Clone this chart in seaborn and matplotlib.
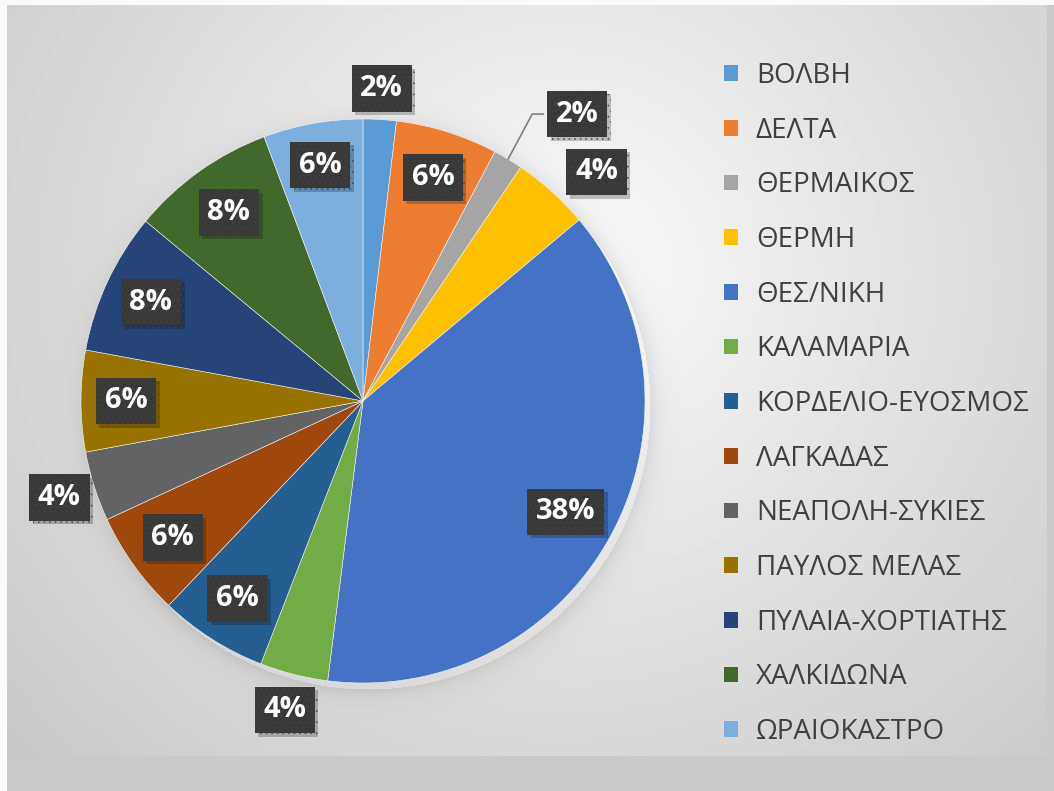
import numpy as np
import matplotlib
matplotlib.use("Agg")
import matplotlib.pyplot as plt
import seaborn as sns
from matplotlib import patheffects as pe

sns.set_theme(style="white")
plt.rcParams['font.family'] = ['Open Sans', 'DejaVu Sans']
plt.rcParams['hatch.linewidth'] = 0.4

# ---- data ----
regions = ['ΒΟΛΒΗ', 'ΔΕΛΤΑ', 'ΘΕΡΜΑΙΚΟΣ', 'ΘΕΡΜΗ', 'ΘΕΣ/ΝΙΚΗ', 'ΚΑΛΑΜΑΡΙΑ',
           'ΚΟΡΔΕΛΙΟ-ΕΥΟΣΜΟΣ', 'ΛΑΓΚΑΔΑΣ', 'ΝΕΑΠΟΛΗ-ΣΥΚΙΕΣ', 'ΠΑΥΛΟΣ ΜΕΛΑΣ',
           'ΠΥΛΑΙΑ-ΧΟΡΤΙΑΤΗΣ', 'ΧΑΛΚΙΔΩΝΑ', 'ΩΡΑΙΟΚΑΣΤΡΟ']
shares = [1.9, 5.85, 1.7, 4.45, 38.1, 3.9, 6.2, 6.0, 4.0, 5.8, 8.1, 8.3, 5.7]

# ---- style ----
colors = ['#5B9BD5', '#ED7D31', '#A5A5A5', '#FFC000', '#4472C4', '#70AD47',
          '#255E91', '#9E480E', '#636363', '#997300', '#264478', '#43682B', '#7CAFDD']
label_r = [1.11, 0.83, 1.27, 1.16, 0.82, 1.13, 0.83, 0.83, 1.13, 0.84, 0.83, 0.82, 0.85]
label_shift = [0, 0, -5.8, -3.5, 0, 0, 0, 0, 0, 0, 0, 0, 0]
leader = [False, False, True, False, False, False, False, False, False, False, False, False, False]

W, H = 1054, 791
fig = plt.figure(figsize=(W / 100, H / 100), dpi=100)

# background gradient
yy, xx = np.mgrid[0:H, 0:W]
dist = np.hypot(xx - 560, (yy - 270) * 1.05)
bg = np.clip(250 - 0.068 * dist, 196, 250)
cx, cy, R = 368, 407, 282
dpie = np.hypot(xx - cx, yy - cy)
sh = np.where(dpie > R, 20 * np.exp(-(dpie - R) / 10.0), 0)
bg = bg - sh
bg[(xx > 1046) | (yy > 755)] = 201
bg[(xx < 7) | (yy < 5)] = 250
bgax = fig.add_axes([0, 0, 1, 1], zorder=-5)
bgax.imshow(bg, cmap='gray', vmin=0, vmax=255, aspect='auto', interpolation='bilinear')
bgax.axis('off')

# pie
pcx, pcy, pr = 363, 401, 282
ax = fig.add_axes([(pcx - pr) / W, (H - pcy - pr) / H, 2 * pr / W, 2 * pr / H])
ax.patch.set_alpha(0)
wedges, _ = ax.pie(shares, colors=colors, startangle=90, counterclock=False, radius=1,
                   wedgeprops=dict(edgecolor='#f4f4f4', linewidth=0.4))
ax.set_xlim(-1, 1)
ax.set_ylim(-1, 1)
ax.set_aspect('equal')
ax.axis('off')

for w, v, r, s, ld in zip(wedges, shares, label_r, label_shift, leader):
    mid = (w.theta1 + w.theta2) / 2
    ang = np.deg2rad(mid + s)
    x, y = r * np.cos(ang), r * np.sin(ang)
    t = ax.text(x, y, f"{v:.0f}%", ha='center', va='center', fontsize=21,
                fontweight='bold', color='white', zorder=5,
                bbox=dict(boxstyle='square,pad=0.3', fc='#393939', ec='#444444',
                          lw=0, hatch='...'))
    t.get_bbox_patch().set_path_effects([
        pe.SimplePatchShadow(offset=(2.5, -2.5), shadow_rgbFace='black', alpha=0.22),
        pe.Normal()])
    if ld:
        m = np.deg2rad(mid)
        ex, ey = np.cos(m), np.sin(m)
        bx = x - 0.12
        ax.plot([ex, bx - 0.04, bx], [ey, y, y], color='#7f7f7f', lw=1.2, zorder=4,
                clip_on=False)

leg = fig.legend(wedges, regions, loc='upper left',
                 bbox_to_anchor=(699 / W, 1 - 37 / H), frameon=False,
                 fontsize=20, handlelength=0.5, handleheight=0.5,
                 labelspacing=0.96, handletextpad=0.65, labelcolor='#404040')
for h in leg.legend_handles:
    h.set_edgecolor('none')

fig.savefig('out.png', dpi=100)
